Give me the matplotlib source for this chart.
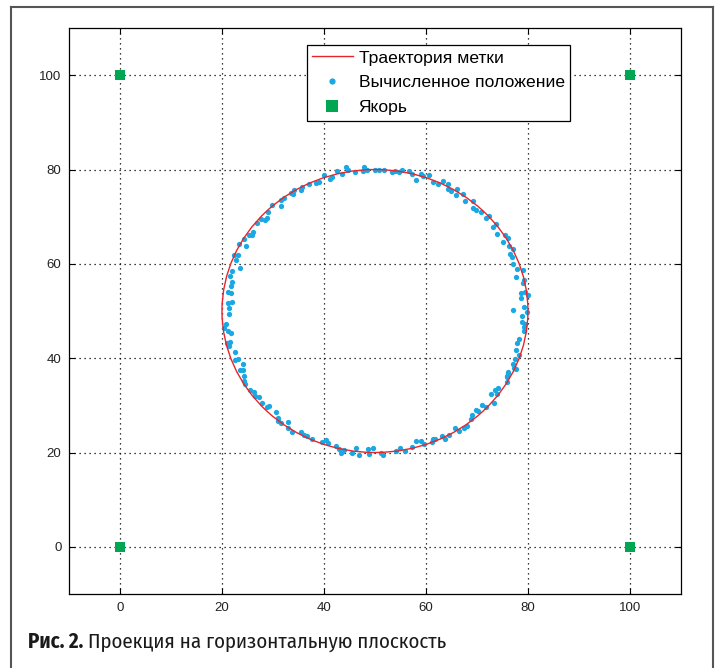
import matplotlib
matplotlib.use("Agg")
import matplotlib.pyplot as plt
from matplotlib.patches import Circle
from matplotlib.lines import Line2D
from matplotlib import font_manager

# Trajectory of the tag: circle
traj_center = (50, 50)
traj_radius = 30

# Anchor positions
anchor_x = [0, 0, 100, 100]
anchor_y = [0, 100, 0, 100]

# Computed positions
est_x = [22.0, 23.5, 22.8, 22.4, 23.2, 23.4, 24.7, 24.4, 25.2, 25.8, 26.1, 26.9, 27.7, 28.5, 28.9,
         29.1, 29.9, 31.6, 31.6, 32.2, 33.6, 34.2, 34.0, 35.7, 35.5, 37.0, 38.4, 39.1, 40.0, 41.2,
         41.6, 42.6, 43.6, 44.3, 44.7, 46.1, 47.7, 47.9, 48.5, 50.1, 50.7, 51.8, 53.3, 53.9, 54.8,
         55.3, 56.7, 57.3, 58.1, 59.1, 59.4, 60.6, 61.4, 62.3, 63.3, 64.3, 64.3, 65.0, 66.0, 65.8,
         67.2, 67.6, 69.2, 69.2, 69.9, 70.8, 71.8, 72.3, 73.1, 73.7, 73.9, 75.5, 76.0, 75.2, 76.2,
         77.0, 76.5, 76.9, 77.0, 77.8, 79.0, 21.5, 22.0, 21.7, 21.1, 21.7, 21.2, 22.0, 21.3, 21.4,
         20.8, 20.3, 21.1, 21.8, 21.0, 21.6, 21.3, 22.5, 22.6, 23.2, 24.2, 23.5, 24.1, 24.4, 77.6,
         79.3, 79.1, 78.7, 79.5, 80.0, 78.7, 79.3, 77.0, 79.9, 78.9, 78.9, 79.5, 79.2, 79.3, 78.3,
         77.9, 77.6, 78.2, 77.4, 77.0, 77.2, 77.6, 76.1, 75.9, 24.3, 24.5, 25.4, 26.2, 26.5, 27.3,
         27.9, 28.8, 29.3, 30.5, 31.0, 31.0, 31.6, 32.9, 33.0, 33.8, 35.5, 36.1, 36.6, 37.7, 39.6,
         40.4, 40.8, 42.3, 42.9, 43.4, 43.9, 45.5, 46.3, 46.9, 48.6, 48.9, 49.7, 51.2, 51.6, 54.1,
         55.0, 55.8, 57.3, 58.1, 59.1, 59.6, 61.2, 61.3, 61.7, 63.2, 63.8, 64.5, 65.6, 66.4, 67.5,
         68.1, 68.8, 69.1, 69.8, 70.3, 70.9, 71.8, 73.4, 72.7, 73.5, 74.1, 74.0, 75.8, 75.8, 76.1]
est_y = [58.4, 59.2, 60.8, 61.9, 61.9, 64.2, 63.8, 65.3, 66.1, 66.1, 66.7, 68.7, 69.5, 69.3, 69.7,
         71.1, 72.4, 72.3, 73.6, 73.9, 75.0, 75.6, 74.8, 76.3, 75.6, 76.9, 77.2, 77.3, 78.8, 77.9,
         78.4, 79.7, 79.1, 80.6, 80.0, 79.4, 79.7, 80.5, 80.0, 80.0, 79.8, 80.0, 79.5, 79.7, 79.5,
         80.0, 79.7, 79.0, 77.8, 79.1, 78.6, 78.8, 77.3, 76.9, 77.5, 76.9, 75.8, 75.4, 75.9, 74.6,
         74.8, 73.4, 73.3, 71.9, 71.4, 71.0, 69.8, 70.2, 67.9, 68.5, 66.4, 66.1, 65.4, 64.6, 63.8,
         63.2, 62.1, 61.5, 60.0, 59.0, 58.6, 57.4, 56.2, 55.2, 54.1, 53.9, 51.7, 51.9, 50.7, 49.3,
         47.2, 46.4, 45.8, 45.4, 43.3, 43.5, 42.6, 41.4, 39.7, 39.9, 38.8, 37.5, 37.4, 36.3, 57.2,
         56.6, 55.9, 53.8, 54.1, 53.4, 52.8, 50.9, 50.2, 49.8, 49.0, 47.6, 47.2, 46.7, 45.7, 44.1,
         43.2, 41.8, 40.6, 39.9, 38.8, 37.9, 37.7, 37.0, 36.2, 35.1, 34.5, 33.3, 32.9, 31.9, 31.8,
         30.5, 29.6, 29.9, 28.6, 27.3, 26.7, 26.3, 26.5, 25.3, 24.4, 24.4, 23.8, 23.4, 22.9, 22.3,
         22.7, 22.1, 21.4, 20.8, 20.0, 20.5, 19.8, 20.9, 19.5, 20.7, 19.7, 21.0, 19.8, 19.5, 20.4,
         21.0, 20.3, 21.1, 22.4, 22.5, 21.8, 22.2, 22.9, 22.9, 23.6, 22.9, 23.8, 25.2, 24.6, 25.1,
         25.6, 27.2, 28.0, 29.1, 28.7, 30.0, 29.6, 30.5, 32.4, 33.2, 33.6, 32.5, 34.9, 36.0, 36.8]

ticks = [0, 20, 40, 60, 80, 100]

names = {f.name for f in font_manager.fontManager.ttflist}
tick_font = "Liberation Sans" if "Liberation Sans" in names else "DejaVu Sans"
if "Fira Sans Condensed" in names:
    cap_font, cap_stretch = "Fira Sans Condensed", "normal"
else:
    cap_font, cap_stretch = "DejaVu Sans", "condensed"

fig = plt.figure(figsize=(7.19, 6.68), dpi=100)
ax = fig.add_axes([0.096, 0.1108, 0.851, 0.8472])

ax.add_patch(Circle(traj_center, traj_radius, fill=False, edgecolor="#e8242c",
                    linewidth=1.0, zorder=4))
ax.plot(est_x, est_y, "o", color="#19a8e4", markersize=3.8, markeredgewidth=0, zorder=3)
ax.plot(anchor_x, anchor_y, "s", color="#00a651", markersize=6.5, markeredgewidth=0, zorder=5)

ax.set_xlim(-10, 110)
ax.set_ylim(-10, 110)
ax.set_xticks(ticks)
ax.set_yticks(ticks)
ax.grid(True, linestyle=(0, (1, 3)), color="black", linewidth=0.9)
ax.set_axisbelow(True)
ax.tick_params(direction="in", top=True, right=True, length=4, width=0.8,
               labelsize=9.5, pad=5.5, labelcolor="#222222")
for lab in ax.get_xticklabels() + ax.get_yticklabels():
    lab.set_fontfamily(tick_font)
for sp in ax.spines.values():
    sp.set_linewidth(0.9)

handles = [Line2D([], [], color="#e8242c", linewidth=1.0),
           Line2D([], [], marker="o", linestyle="none", color="#19a8e4", markersize=4.5,
                  markeredgewidth=0),
           Line2D([], [], marker="s", linestyle="none", color="#00a651", markersize=9,
                  markeredgewidth=0)]
labels = ["Траектория метки", "Вычисленное положение", "Якорь"]
leg = ax.legend(handles, labels, loc="upper left", bbox_to_anchor=(307 / 719, 1 - 45 / 668),
                bbox_transform=fig.transFigure, borderaxespad=0, fancybox=False,
                framealpha=1, edgecolor="black", prop={"family": tick_font, "size": 12.6},
                handlelength=2.3, handletextpad=0.35, labelspacing=0.55, borderpad=0.3)
leg.get_frame().set_linewidth(0.9)

# outer frame of the figure
fc = "#555555"
fig.add_artist(Line2D([0.0153, 0.0153], [0, 0.9895], color=fc, linewidth=1.5))
fig.add_artist(Line2D([0.0153, 0.9917], [0.9895, 0.9895], color=fc, linewidth=1.5))
fig.add_artist(Line2D([0.9917, 0.9917], [0, 0.9895], color=fc, linewidth=1.5))

# caption
t1 = fig.text(28 / 719, 1 - 648 / 668, "Рис. 2.", fontsize=15, fontweight="bold",
              family=cap_font, fontstretch=cap_stretch, va="baseline", color="#1a1a1a")
fig.canvas.draw()
bb = t1.get_window_extent()
fig.text((bb.x1 + 5) / 719, 1 - 648 / 668, "Проекция на горизонтальную плоскость",
         fontsize=15, family=cap_font, fontstretch=cap_stretch, va="baseline", color="#1a1a1a")

fig.savefig("out.png", dpi=100)
